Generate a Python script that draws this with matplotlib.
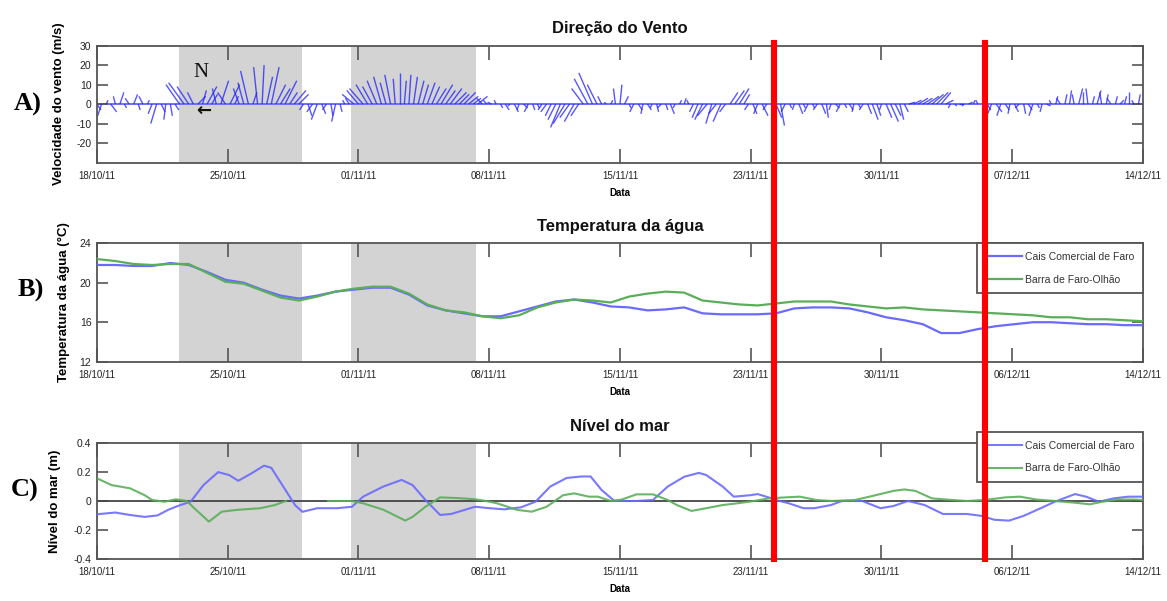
import numpy as np
import matplotlib
matplotlib.use('Agg')
from matplotlib import pyplot as plt
from matplotlib import transforms
from matplotlib.collections import LineCollection
from matplotlib.lines import Line2D

plt.rcParams['font.family'] = ['Liberation Sans Narrow', 'Liberation Sans', 'DejaVu Sans']
plt.rcParams['axes.unicode_minus'] = False

N_DAYS = 57  # 18/10/11 -> 14/12/11

xtick_labels_a = ['18/10/11', '25/10/11', '01/11/11', '08/11/11', '15/11/11',
                  '23/11/11', '30/11/11', '07/12/11', '14/12/11']
xtick_labels_bc = ['18/10/11', '25/10/11', '01/11/11', '08/11/11', '15/11/11',
                   '23/11/11', '30/11/11', '06/12/11', '14/12/11']

# wind components (m/s), one value every 6 h, one row per day
wind_u = [
    2, -2, 1, 3,    -1, 2, 1, -2,    2, 1, -2, 1,    -2, -3, 2, -1,
    1, 2, -7, -8,   -6, -3, 4, 2,    5, 3, -2, 4,    -4, 5, 2, -3,
    -3, -4, 2, -2,  1, 3, 4, 5,      5, 6, 4, 6,     5, -2, 2, -3,
    -3, 2, -2, 1,   -2, 1, -1, -2,   -6, -6, -7, -6, -5, -5, -4, -3,
    -3, -1, 0, 1,   1, 2, 3, 3,      4, 4, 5, 6,     5, 6, 6, 5,
    6, 5, 4, 5,     -3, -2, -2, -1,  1, 2, -1, 2,    -1, 2, -2, 1,
    1, -2, -3, -3,  -4, -5, -6, -5,  -5, -4, -6, -7, -7, -5, -2, -1,
    1, -1, 1, 2,    1, -2, 2, -1,    2, -1, 1, -2,   1, 2, -1, 1,
    1, -1, -2, -3,  -4, -5, -3, -4,  -4, -3, 4, 5,   5, 3, -2, 2,
    -2, 3, -2, 2,   3, 2, -2, 1,     -1, 2, 1, -2,   1, -2, 2, 1,
    -1, 2, -2, 1,   2, -1, 1, -2,    2, 3, 2, -1,    3, 4, 3, 2,
    2, 3, 4, 5,     5, 6, 6, 6,      5, 4, -1, 1,    2, -1, 2, 1,
    -1, 2, 2, -2,   3, -2, 2, -1,    2, -2, 1, 2,    -2, 1, -1, 2,
    -1, 1, -2, 1,   1, -1, 2, 0,     -1, 1, 2, -1,   1, -2, 1, 2,
    1, 0, -1, 1,
    0,
]
wind_v = [
    -3, -6, 2, -4,  4, 6, -2, 3,     5, -3, 4, 2,    -5, -10, -4, -8,
    -6, -3, 10, 11, 9, 6, 4, 7,      9, 5, 8, 12,    6, 10, 4, 8,
    11, 17, 6, 19,  20, 14, 19, 10,  8, 12, 6, 7,    5, -3, -6, -4,
    -8, -5, -3, -6, -9, -4, 2, 3,    5, 7, 8, 10,    9, 12, 14, 11,
    15, 13, 16, 12, 15, 14, 12, 10,  11, 9, 8, 10,   7, 8, 6, 5,
    6, 4, 3, 4,     3, 2, 1, 2,      -2, -3, -1, -4, -3, -2, -4, -3,
    -2, -3, -4, -6, -8, -12, -10, -7, -9, -6, 8, 13, 16, 10, 4, 1,
    2, 8, 10, 4,    -2, -4, -3, -5,  -3, -2, -4, -2, -3, -5, -2, 2,
    3, 2, -4, -7,   -8, -6, -10, -5, -9, -4, 6, 7,   8, 5, -3, -5,
    -5, -6, -3, -4, -7, -11, -4, -2, -3, -5, -2, -4, -2, -3, -5, -7,
    -3, -2, -4, -2, -3, -4, -2, -3,  -5, -8, -6, -3, -7, -9, -6, -8,
    -4, 1, 2, 3,    3, 4, 5, 6,      6, 2, -2, -1,   0, -1, 1, 2,
    2, 3, -3, -5,   -4, -6, -3, -5,  -4, -2, -5, -3, -6, -2, -4, -1,
    2, 4, 3, 5,     7, 5, 8, 6,      8, 4, 7, 6,     5, 3, 4, 2,
    4, 6, 2, 5,
    3,
]

# water temperature (deg C), daily
temp_cais = [21.8, 21.8, 21.7, 21.7, 22.0, 21.8, 21.1, 20.3, 20.0, 19.3,
             18.7, 18.4, 18.7, 19.1, 19.3, 19.5, 19.5, 18.8, 17.7, 17.2,
             16.9, 16.6, 16.6, 17.1, 17.6, 18.1, 18.3, 18.0, 17.6, 17.5,
             17.2, 17.3, 17.5, 16.9, 16.8, 16.8, 16.8, 16.9, 17.4, 17.5,
             17.5, 17.4, 17.0, 16.5, 16.2, 15.8, 14.9, 14.9, 15.3, 15.6,
             15.8, 16.0, 16.0, 15.9, 15.8, 15.8, 15.7, 15.7]
temp_barra = [22.4, 22.2, 21.9, 21.8, 21.9, 21.9, 21.0, 20.1, 19.9, 19.2,
              18.5, 18.2, 18.6, 19.1, 19.4, 19.6, 19.6, 18.9, 17.8, 17.2,
              17.0, 16.6, 16.4, 16.7, 17.5, 18.0, 18.3, 18.2, 18.0, 18.6,
              18.9, 19.1, 19.0, 18.2, 18.0, 17.8, 17.7, 17.9, 18.1, 18.1,
              18.1, 17.8, 17.6, 17.4, 17.5, 17.3, 17.2, 17.1, 17.0, 16.9,
              16.8, 16.7, 16.5, 16.5, 16.3, 16.3, 16.2, 16.1]

# sea level residual (m)
nivel_cais_t = [0, 1.0, 1.8, 2.6, 3.3, 3.9, 4.5, 5.1, 5.8, 6.6, 7.2, 7.7, 8.4, 9.1, 9.5,
                10.1, 10.8, 11.2, 12.0, 13.1, 13.9, 14.5, 15.6, 16.6, 17.2, 17.9, 18.7,
                19.3, 20.6, 21.4, 22.2, 23.1, 23.9, 24.7, 25.6, 26.4, 26.9, 27.5, 28.2,
                29.4, 30.3, 31.1, 32.0, 32.8, 33.2, 34.1, 34.7, 35.6, 36.0, 36.6, 37.0,
                37.7, 38.5, 39.1, 40.0, 40.6, 41.7, 42.7, 43.4, 44.2, 45.1, 46.1, 47.4,
                48.2, 48.9, 49.7, 50.5, 51.6, 52.2, 53.3, 53.9, 54.6, 55.4, 56.2, 57.0]
nivel_cais = [-0.092, -0.08, -0.097, -0.11, -0.10, -0.06, -0.03, -0.005, 0.11, 0.20, 0.18,
              0.14, 0.19, 0.245, 0.23, 0.11, -0.03, -0.075, -0.05, -0.05, -0.04, 0.03, 0.10,
              0.146, 0.11, 0.007, -0.097, -0.09, -0.04, -0.05, -0.058, -0.044, -0.005, 0.10,
              0.16, 0.17, 0.17, 0.076, 0.0, 0.0, 0.007, 0.10, 0.168, 0.195, 0.18, 0.10, 0.03,
              0.04, 0.048, 0.025, 0.007, -0.016, -0.05, -0.05, -0.028, 0.0, 0.0, -0.05, -0.035,
              0.0, -0.028, -0.09, -0.09, -0.103, -0.13, -0.136, -0.103, -0.04, -0.005, 0.048,
              0.03, -0.005, 0.018, 0.03, 0.03]
nivel_barra_t = [0, 0.8, 1.8, 2.6, 3.0, 3.7, 4.3, 4.9, 5.3, 6.1, 6.8, 7.6, 8.9, 9.7, 10.3,
                 10.6, 12.6, 13.9, 14.5, 15.6, 16.8, 17.2, 17.9, 18.7, 19.7, 20.6, 21.2,
                 21.8, 22.9, 23.7, 24.5, 25.4, 26.0, 26.8, 27.3, 28.0, 28.6, 29.4, 30.3,
                 31.1, 31.6, 32.4, 33.2, 34.1, 34.9, 35.8, 36.6, 37.5, 38.3, 39.2, 40.0,
                 41.3, 42.1, 43.4, 44.0, 44.6, 45.5, 46.3, 47.4, 48.4, 49.5, 50.3, 51.2,
                 52.2, 53.3, 54.1, 54.8, 55.6, 56.5, 57.0]
nivel_barra = [0.157, 0.11, 0.088, 0.04, 0.007, -0.005, 0.012, 0.0, -0.05, -0.143, -0.074,
               -0.062, -0.05, -0.028, 0.0, np.nan, 0.0, 0.0, -0.016, -0.06, -0.136, -0.11,
               -0.04, 0.025, 0.02, 0.012, 0.0, -0.016, -0.062, -0.074, -0.04, 0.04, 0.053,
               0.03, 0.03, 0.0, 0.01, 0.046, 0.046, 0.007, -0.028, -0.069, -0.05, -0.028,
               -0.016, 0.0, 0.018, 0.025, 0.03, 0.007, 0.0, 0.007, 0.03, 0.07, 0.08, 0.07,
               0.018, 0.01, 0.0, 0.007, 0.025, 0.03, 0.01, 0.0, -0.012, -0.023, -0.005,
               0.01, 0.01, 0.007]

shaded_periods = [(4.45, 11.15), (13.85, 20.65)]
event_days = [36.9, 48.4]

BLUE = '#6a6aff'
GREEN = '#5aae5a'
FRAME = '#555555'
SHADE = '#d3d3d3'


def style_axis(ax, ylim, yticks, ylabel, title, xlabels, ylabel_x):
    for x0, x1 in shaded_periods:
        ax.axvspan(x0, x1, color=SHADE, lw=0, zorder=0)
    ax.set_xlim(0, N_DAYS)
    ax.set_ylim(*ylim)
    ax.set_xticks(np.linspace(0, N_DAYS, len(xlabels)))
    ax.set_xticklabels(xlabels)
    ax.set_yticks(yticks)
    ax.tick_params(axis='both', direction='in', top=True, right=True,
                   color=FRAME, width=1.2, labelcolor='#222222')
    ax.tick_params(axis='x', length=10, pad=6, labelsize=7)
    ax.tick_params(axis='y', length=8, pad=4, labelsize=7.5)
    for s in ax.spines.values():
        s.set_color(FRAME)
        s.set_linewidth(1.3)
    ax.set_title(title, fontsize=12, fontweight='bold', pad=9, color='#111111')
    ax.set_xlabel('Data', fontsize=7, fontweight='bold', labelpad=5)
    ax.set_ylabel(ylabel, fontsize=9.5, fontweight='bold')
    ax.yaxis.set_label_coords(ylabel_x, 0.5)


fig = plt.figure(figsize=(11.67, 6.01), dpi=100)
left, width = 0.0831, 0.8963
ax_a = fig.add_axes([left, 0.7296, width, 0.1944])
ax_b = fig.add_axes([left, 0.3982, width, 0.1970])
ax_c = fig.add_axes([left, 0.0704, width, 0.1920])

# A) wind sticks from the zero line
t_wind = np.arange(len(wind_u)) * 0.25
u = np.array(wind_u, dtype=float)
v = np.array(wind_v, dtype=float)
k = 0.106  # m/s -> days so that sticks keep their direction on screen
segs = [[(t, 0.0), (t + uu * k, vv)] for t, uu, vv in zip(t_wind, u, v)]
ax_a.axhline(0, color='#6f6fff', lw=1.4, zorder=1)
ax_a.add_collection(LineCollection(segs, colors='#1f1fff', linewidths=1.0,
                                   alpha=0.75, zorder=2))
style_axis(ax_a, (-30, 30), [-20, -10, 0, 10, 20, 30],
           'Velocidade do vento (m/s)', 'Direção do Vento', xtick_labels_a, -0.031)
ax_a.text(0.099, 0.77, 'N', transform=ax_a.transAxes, ha='center', va='center',
          fontsize=15, family=['Liberation Serif', 'DejaVu Serif'], color='#111111')
ax_a.text(0.102, 0.445, '←', transform=ax_a.transAxes, ha='center', va='center',
          fontsize=13, family=['DejaVu Sans'], color='#111111', fontweight='bold')

# B) water temperature
days = np.arange(len(temp_cais))
ax_b.plot(days, temp_cais, color=BLUE, lw=1.6, label='Cais Comercial de Faro', zorder=3)
ax_b.plot(days, temp_barra, color=GREEN, lw=1.6, label='Barra de Faro-Olhão', zorder=3)
style_axis(ax_b, (12, 24), [12, 16, 20, 24],
           'Temperatura da água (°C)', 'Temperatura da água', xtick_labels_bc, -0.026)

# C) sea level
ax_c.axhline(0, color='#444444', lw=1.3, zorder=2)
ax_c.plot(nivel_cais_t, nivel_cais, color=BLUE, lw=1.5, alpha=0.9,
          label='Cais Comercial de Faro', zorder=3)
ax_c.plot(nivel_barra_t, nivel_barra, color=GREEN, lw=1.5, alpha=0.9,
          label='Barra de Faro-Olhão', zorder=3)
style_axis(ax_c, (-0.4, 0.4), [-0.4, -0.2, 0, 0.2, 0.4],
           'Nível do mar (m)', 'Nível do mar', xtick_labels_bc, -0.034)
ax_c.set_yticklabels(['-0.4', '-0.2', '0', '0.2', '0.4'])

for ax, anchor in ((ax_b, 1.0), (ax_c, 1.098)):
    leg = ax.legend(loc='upper right', bbox_to_anchor=(1.0, anchor), borderaxespad=0,
                    fontsize=7.5, handlelength=3.4, handletextpad=0.3, labelspacing=1.2,
                    borderpad=0.85, fancybox=False, framealpha=1, edgecolor=FRAME)
    leg.get_frame().set_linewidth(1.3)
    for txt in leg.get_texts():
        txt.set_color('#333333')

# event markers across all panels
trans = transforms.blended_transform_factory(ax_c.transData, fig.transFigure)
for d in event_days:
    fig.add_artist(Line2D([d, d], [0.0699, 0.928], transform=trans,
                          color='#ff0000', lw=4.4, zorder=10))

for lbl, x, y in (('A)', 0.024, 0.827), ('B)', 0.0266, 0.5175), ('C)', 0.0214, 0.1847)):
    fig.text(x, y, lbl, ha='center', va='center', fontsize=19, fontweight='bold',
             family=['Liberation Serif', 'DejaVu Serif'])

fig.savefig('out.png', dpi=100)
